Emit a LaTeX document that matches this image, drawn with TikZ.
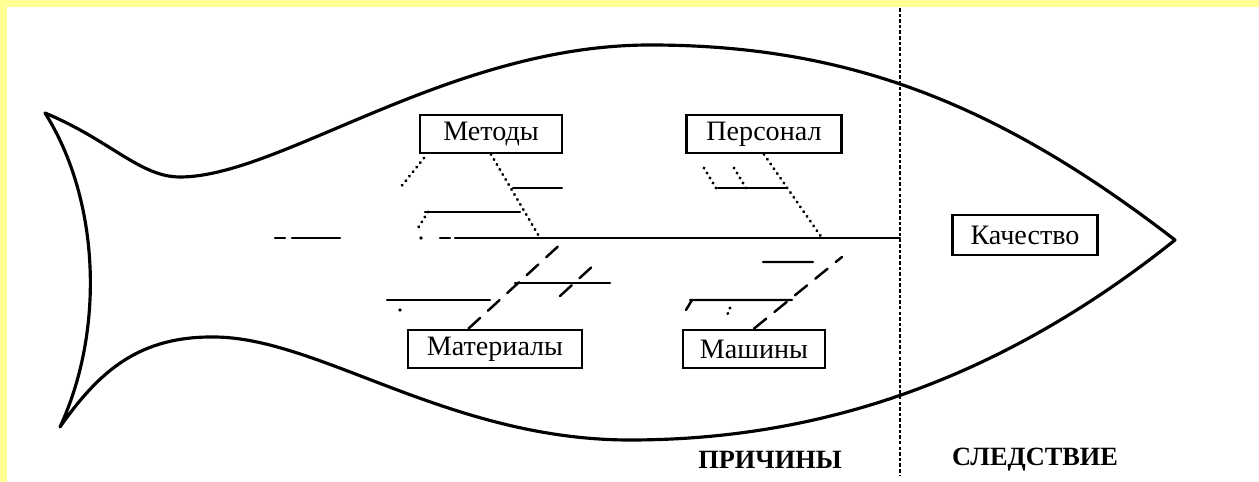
\documentclass[tikz,border=0pt]{standalone}
\usepackage{fontspec}
\setmainfont{Liberation Serif}
\usetikzlibrary{calc}
\definecolor{bandyellow}{RGB}{255,255,150}

\begin{document}
\begin{tikzpicture}[x=0.02cm, y=-0.02cm, line cap=round,
	every node/.style={font=\fontsize{16}{18}\selectfont},
	causebox/.style={draw, line width=1.6pt, minimum height=0.76cm, inner sep=2pt},
	outline/.style={line width=1.8pt},
	bone/.style={line width=1.8pt, dash pattern=on 0.1pt off 3.2pt},
	slashbone/.style={line width=1.4pt, dash pattern=on 9pt off 6pt},
	rib/.style={line width=1.4pt},
	divider/.style={line width=1.6pt, dash pattern=on 2pt off 1.2pt, line cap=butt},
	footer/.style={font=\bfseries\fontsize{15}{17}\selectfont}]
	\useasboundingbox (0,0) rectangle (1259,482);
	\fill[white] (0,0) rectangle (1259,482);
	\fill[bandyellow] (0,0) rectangle (1259,7);
	\fill[bandyellow] (0,0) rectangle (7,482);
	% fish outline
	\draw[outline, line join=round] (45,113) .. controls (110,140) and (140,177) .. (180,177)
		.. controls (280,177) and (450,45) .. (650,45)
		.. controls (850,45) and (1000,105) .. (1175,240)
		.. controls (1000,380) and (820,440) .. (630,440)
		.. controls (450,440) and (320,338) .. (215,337)
		.. controls (140,336) and (100,370) .. (60,427)
		.. controls (105,330) and (100,200) .. (45,113) -- cycle;
	\draw[divider] (900,8) -- (900,476);
	% boxes
	\node[causebox, minimum width=2.84cm] (metody) at (491,134) {Методы};
	\node[causebox, minimum width=3.1cm] (personal) at (764,134) {Персонал};
	\node[causebox, minimum width=3.48cm] (materialy) at (495,349) {Материалы};
	\node[causebox, minimum width=2.84cm] (mashiny) at (754,349) {Машины};
	\node[causebox, minimum width=2.9cm, minimum height=0.8cm] (kachestvo) at (1025,235) {Качество};
	\node[footer] (prichiny) at (770,460) {ПРИЧИНЫ};
	\node[footer] (sledstvie) at (1035,460) {СЛЕДСТВИЕ};
	% spine
	\coordinate (tailend) at (455,238);
	\coordinate (head) at (900,238);
	\coordinate (jm) at (540,238);
	\coordinate (jp) at (822,238);
	\coordinate (jt) at (565,240);
	\coordinate (jw) at (842,257);
	\draw[rib] (tailend) -- (head);
	\draw[rib] (275,238) -- (285,238) (292,238) -- (340,238) (440,238) -- (450,238);
	\fill (421,238) circle (1.8);
	% bones
	\draw[bone] (metody.south) -- (jm);
	\draw[bone] (personal.south) -- (jp);
	\draw[slashbone] ($(materialy.north west)!0.35!(materialy.north east)$) -- (jt);
	\draw[slashbone] (mashiny.north) -- (jw);
	% ribs
	\draw[rib] (513,188) -- (562,188) (425,212) -- (520,212);
	\draw[bone] (424,158) -- (400,188) (428,212) -- (418,228);
	\draw[rib] (718,188) -- (786,188);
	\draw[bone] (704,168) -- (716,188) (734,168) -- (746,188);
	\draw[rib] (690,300) -- (792,300) (763,262) -- (813,262) (692,300) -- (686,310);
	\draw[bone] (730,308) -- (726,318);
	\draw[rib] (387,300) -- (490,300) (515,283) -- (610,283);
	\draw[slashbone] (560,296) -- (595,264);
	\fill (400,310) circle (1.8);
\end{tikzpicture}
\end{document}
